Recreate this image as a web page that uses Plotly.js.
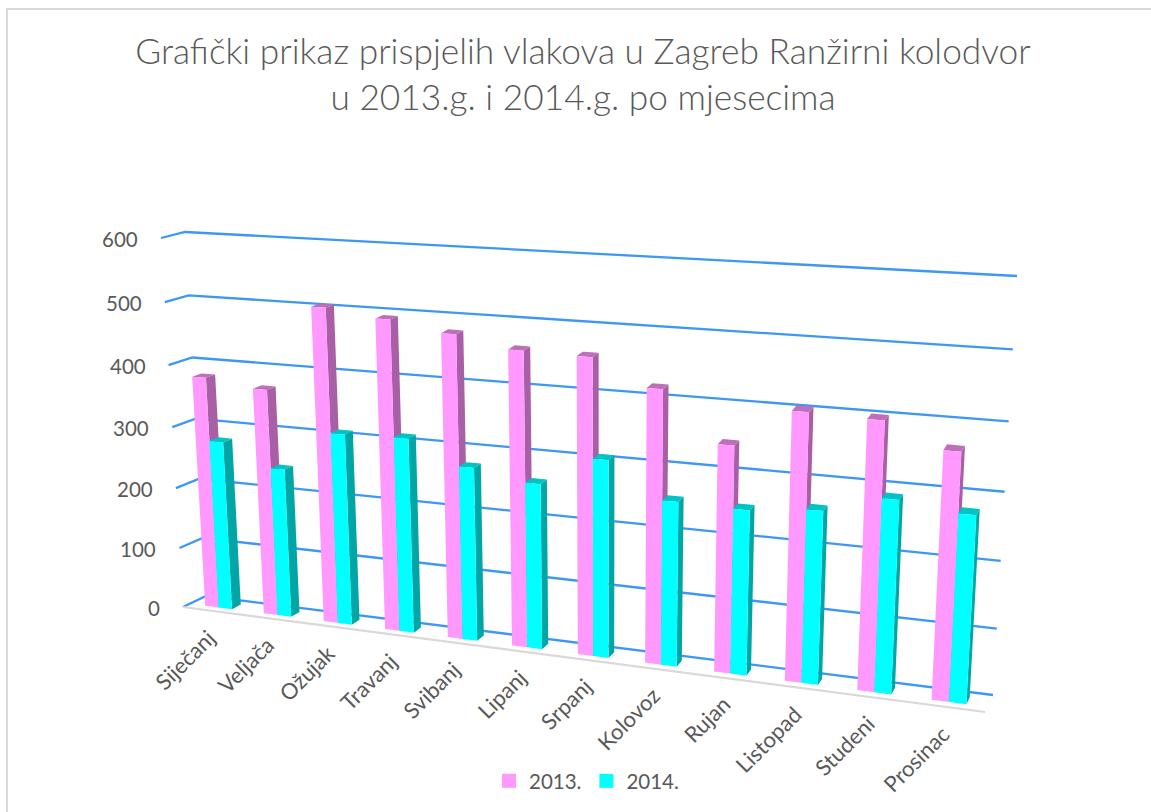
<!DOCTYPE html>
<html><head><meta charset="utf-8">
<script src="https://cdn.plot.ly/plotly-3.0.1.min.js"></script>
<style>html,body{margin:0;padding:0;background:#fff}#c{width:1151px;height:812px}</style>
</head><body><div id="c"></div>
<script>
const months = ['Siječanj','Veljača','Ožujak','Travanj','Svibanj','Lipanj','Srpanj','Kolovoz','Rujan','Listopad','Studeni','Prosinac'];
const values2013 = [380,369,505,494,479,462,460,421,347,405,402,367];
const values2014 = [278,243,309,312,276,261,308,255,253,263,290,279];
const valueTicks = [0,100,200,300,400,500,600];

// Perspective camera of the 3-D box: corner pixels of the back and the front plane
const backPlane  = {bl:[206,596], br:[993,695], tr:[1017,276], tl:[185,232]};
const frontPlane = {bl:[183,607], br:[985,712], tr:[1008,290], tl:[161,238]};
const FONT = 'Lato, Carlito, sans-serif';

function homography(q){
  const [x0,y0]=q.bl,[x1,y1]=q.br,[x2,y2]=q.tr,[x3,y3]=q.tl;
  const dx1=x1-x2,dx2=x3-x2,sx=x0-x1+x2-x3,dy1=y1-y2,dy2=y3-y2,sy=y0-y1+y2-y3;
  const den=dx1*dy2-dx2*dy1;
  const g=(sx*dy2-dx2*sy)/den,h=(dx1*sy-sx*dy1)/den;
  const a=x1-x0+g*x1,b=x3-x0+h*x3,d=y1-y0+g*y1,e=y3-y0+h*y3;
  return (s,t)=>{const w=g*s+h*t+1;return [(a*s+b*t+x0)/w,(d*s+e*t+y0)/w];};
}
const hBack=homography(backPlane), hFront=homography(frontPlane);
// category position u (0..12), value v, depth d (0 back wall, 1 front edge)
function project(u,v,d){
  const B=hBack(u/12,v/600),F=hFront(u/12,v/600);
  return [B[0]+(F[0]-B[0])*d,B[1]+(F[1]-B[1])*d];
}
const BAR_W=0.23, BAR_START=0.265, D_FRONT=0.70, D_BACK=0.30;

function poly(pts){return {x:pts.map(p=>p[0]).concat([pts[0][0],null]),y:pts.map(p=>p[1]).concat([pts[0][1],null])};}
function merge(list){return {x:[].concat(...list.map(p=>p.x)),y:[].concat(...list.map(p=>p.y))};}
function face(g,color,name){
  return {type:'scatter',mode:'lines',x:g.x,y:g.y,fill:'toself',fillcolor:color,
    line:{width:0,color:color},hoverinfo:'skip',showlegend:false,name:name,connectgaps:false};
}
function barSeries(vals,slot,cFront,cSide,cTop,name){
  const fr=[],si=[],to=[];
  vals.forEach((v,i)=>{
    const u0=i+BAR_START+slot*BAR_W,u1=u0+BAR_W;
    fr.push(poly([project(u0,0,D_FRONT),project(u1,0,D_FRONT),project(u1,v,D_FRONT),project(u0,v,D_FRONT)]));
    si.push(poly([project(u1,0,D_FRONT),project(u1,0,D_BACK),project(u1,v,D_BACK),project(u1,v,D_FRONT)]));
    to.push(poly([project(u0,v,D_FRONT),project(u1,v,D_FRONT),project(u1,v,D_BACK),project(u0,v,D_BACK)]));
  });
  return [face(merge(si),cSide,name+' bok'),face(merge(to),cTop,name+' vrh'),face(merge(fr),cFront,name)];
}
const grid={x:[],y:[]};
valueTicks.forEach(v=>{
  [project(0,v,1),project(0,v,0),project(12,v,0)].forEach(p=>{grid.x.push(p[0]);grid.y.push(p[1]);});
  grid.x.push(null);grid.y.push(null);
});
const floorEdge=[project(0,0,1),project(12,0,1)];

const traces=[
 {type:'scatter',mode:'lines',x:grid.x,y:grid.y,line:{color:'#3d97f5',width:2.3},hoverinfo:'skip',showlegend:false,name:'grid'},
 {type:'scatter',mode:'lines',x:floorEdge.map(p=>p[0]),y:floorEdge.map(p=>p[1]),line:{color:'#d9d9d9',width:2.2},hoverinfo:'skip',showlegend:false,name:'floor'},
 ...barSeries(values2013,0,'#ff99ff','#a95fa5','#bd70b8','2013.'),
 ...barSeries(values2014,1,'#00ffff','#00a6a6','#00c4c4','2014.'),
 {type:'scatter',mode:'markers',x:[null],y:[null],name:'2013.',marker:{symbol:'square',size:14,color:'#ff99ff'}},
 {type:'scatter',mode:'markers',x:[null],y:[null],name:'2014.',marker:{symbol:'square',size:14,color:'#00ffff'}}
];

const ctx=document.createElement('canvas').getContext('2d');
ctx.font='22px Lato';
const annotations=[];
valueTicks.forEach(v=>{
  const p=project(0,v,1);
  annotations.push({x:p[0]-21,y:p[1]+1,xref:'x',yref:'y',text:String(v),showarrow:false,xanchor:'right',yanchor:'middle',font:{family:FONT,size:20.5,color:'#595959'}});
});
months.forEach((m,i)=>{
  const p=project(i+0.5,0,1),L=ctx.measureText(m).width;
  annotations.push({x:p[0]-1-L*0.36,y:p[1]+22+L*0.36,xref:'x',yref:'y',text:m,showarrow:false,textangle:-45,xanchor:'center',yanchor:'middle',font:{family:FONT,size:22,color:'#595959'}});
});

Plotly.newPlot('c',traces,{
  width:1151,height:812,margin:{l:0,r:0,t:0,b:0},paper_bgcolor:'#fff',plot_bgcolor:'#fff',
  title:{text:'Grafički prikaz prispjelih vlakova u Zagreb Ranžirni kolodvor<br>u 2013.g. i 2014.g. po mjesecima',x:583/1151,xanchor:'center',y:0.921,yanchor:'top',font:{family:FONT,size:35.3,color:'#595959',weight:300}},
  xaxis:{range:[0,1151],visible:false,fixedrange:true},
  yaxis:{range:[812,0],visible:false,fixedrange:true},
  legend:{orientation:'h',x:489/1151,y:1-761/812,xanchor:'left',yanchor:'top',font:{family:FONT,size:20.5,color:'#595959'},bgcolor:'rgba(0,0,0,0)'},
  annotations:annotations,
  shapes:[{type:'path',xref:'x',yref:'y',path:'M 7 812 L 7 9 L 1151 9',line:{color:'#d9d9d9',width:2},layer:'below'}]
},{displayModeBar:false,staticPlot:true});
</script></body></html>
